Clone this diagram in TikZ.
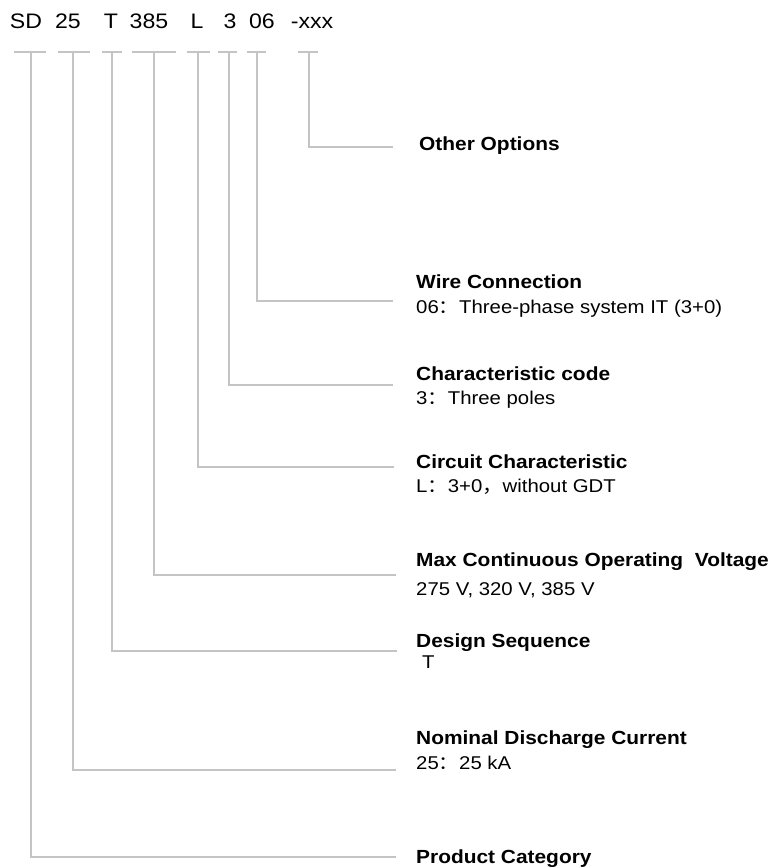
\documentclass[tikz,border=0pt]{standalone}
\usepackage{fontspec}
\setmainfont{Liberation Sans}[FakeStretch=1.1]
\newfontfamily\cjk{Noto Sans CJK SC}[FakeStretch=1.1]
\usepackage{xcolor}
\usepackage{tikz}
\usetikzlibrary{positioning}

\definecolor{linegray}{RGB}{196,196,196}
\tikzset{
  code/.style={font=\fontsize{21}{25}\selectfont, inner sep=0pt, anchor=base},
  tick/.style={draw=linegray, line width=1.3pt},
  conn/.style={draw=linegray, line width=1.3pt},
  title/.style={font=\fontsize{19}{22}\selectfont\bfseries, inner sep=0pt, anchor=base west},
  desc/.style={font=\fontsize{18.5}{22}\selectfont, inner sep=0pt, anchor=base west},
}

\begin{document}
\begin{tikzpicture}[x=1pt,y=-1pt]
\useasboundingbox (0,0) rectangle (777,868);

% part number
\node[code] (sd) at (26,28) {SD};
\node[code] (cur) at (68,28) {25};
\node[code] (seq) at (111,28) {T};
\node[code] (volt) at (149,28) {385};
\node[code] (circ) at (197,28) {L};
\node[code] (pole) at (230,28) {3};
\node[code] (wire) at (262,28) {06};
\node[code] (opt) at (312,28) {-xxx};

% ticks under the part number
\draw[tick] (14,52) -- (46,52); % SD
\draw[tick] (58,52) -- (90,52); % 25
\draw[tick] (102,52) -- (122,52); % T
\draw[tick] (132,52) -- (176,52); % 385
\draw[tick] (187,52) -- (210,52); % L
\draw[tick] (218,52) -- (237,52); % 3
\draw[tick] (247,52) -- (266,52); % 06
\draw[tick] (298,52) -- (318,52); % -xxx

\coordinate (v-sd) at (31,52);
\coordinate (v-cur) at (73,52);
\coordinate (v-seq) at (112,52);
\coordinate (v-volt) at (154,52);
\coordinate (v-circ) at (198,52);
\coordinate (v-pole) at (229,52);
\coordinate (v-wire) at (257,52);
\coordinate (v-opt) at (309,52);

\coordinate (e-opt) at (393,147);
\coordinate (e-wire) at (393,301);
\coordinate (e-pole) at (393,385);
\coordinate (e-circ) at (394,467);
\coordinate (e-volt) at (396,575);
\coordinate (e-seq) at (397,651);
\coordinate (e-cur) at (396,770);
\coordinate (e-sd) at (396,857);

% labels
\node[title] (t-opt) at (419,150) {Other Options};
\node[title] (t-wire) at (416,288) {Wire Connection};
\node[desc] (d-wire) at (416,313) {06{\cjk ：}Three-phase system IT (3+0)};
\node[title] (t-pole) at (416,380) {Characteristic code};
\node[desc] (d-pole) at (416,404) {3{\cjk ：}Three poles};
\node[title] (t-circ) at (416,468) {Circuit Characteristic};
\node[desc] (d-circ) at (416,492) {L{\cjk ：}3+0{\cjk ，}without GDT};
\node[title] (t-volt) at (416,566) {Max Continuous Operating~~Voltage};
\node[desc] (d-volt) at (416,595) {275 V, 320 V, 385 V};
\node[title] (t-seq) at (416,647) {Design Sequence};
\node[desc] (d-seq) at (422,668) {T};
\node[title] (t-cur) at (416,744) {Nominal Discharge Current};
\node[desc] (d-cur) at (416,769) {25{\cjk ：}25 kA};
\node[title] (t-sd) at (416,863) {Product Category};

% connectors
\draw[conn] (v-opt) |- (e-opt);
\draw[conn] (v-wire) |- (e-wire);
\draw[conn] (v-pole) |- (e-pole);
\draw[conn] (v-circ) |- (e-circ);
\draw[conn] (v-volt) |- (e-volt);
\draw[conn] (v-seq) |- (e-seq);
\draw[conn] (v-cur) |- (e-cur);
\draw[conn] (v-sd) |- (e-sd);
\end{tikzpicture}
\end{document}
